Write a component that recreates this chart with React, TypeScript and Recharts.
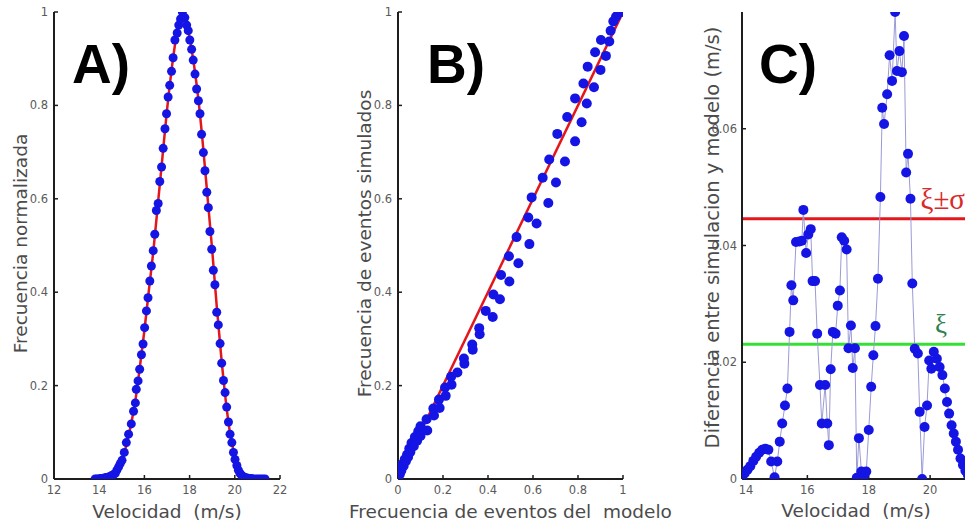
import { ScatterChart, Scatter, XAxis, YAxis, ReferenceLine } from 'recharts'

// A) normalised velocity distribution: simulated points + model curve
const A_VEL = [
  13.82, 13.9, 13.98, 14.06, 14.14, 14.22, 14.3, 14.38, 14.46, 14.54,
  14.62, 14.71, 14.78, 14.86, 14.93, 15.01, 15.11, 15.2, 15.3, 15.42,
  15.52, 15.6, 15.64, 15.72, 15.79, 15.87, 15.94, 16.01, 16.09, 16.16,
  16.24, 16.31, 16.39, 16.46, 16.53, 16.61, 16.68, 16.76, 16.83, 16.91,
  16.98, 17.05, 17.12, 17.2, 17.27, 17.35, 17.45, 17.52, 17.6, 17.68,
  17.79, 17.87, 17.94, 18.01, 18.09, 18.16, 18.24, 18.31, 18.39, 18.46,
  18.53, 18.61, 18.68, 18.76, 18.83, 18.9, 18.98, 19.05, 19.12, 19.2,
  19.27, 19.35, 19.42, 19.5, 19.57, 19.64, 19.72, 19.79, 19.87, 19.94,
  20.01, 20.09, 20.16, 20.23, 20.3, 20.38, 20.46, 20.55, 20.64, 20.74,
  20.84, 20.94, 21.04, 21.14, 21.24, 21.34,
]
const A_SIM = [
  0, 0, 0, 0.001, 0.001, 0.002, 0.003, 0.004, 0.005, 0.007,
  0.009, 0.012, 0.019, 0.026, 0.033, 0.04, 0.057, 0.078, 0.096, 0.118,
  0.145, 0.163, 0.192, 0.21, 0.235, 0.266, 0.289, 0.324, 0.36, 0.388,
  0.424, 0.456, 0.489, 0.524, 0.575, 0.59, 0.637, 0.668, 0.708, 0.75,
  0.782, 0.818, 0.843, 0.873, 0.902, 0.94, 0.955, 0.972, 0.985, 1.0,
  0.988, 0.972, 0.96, 0.94, 0.92, 0.897, 0.867, 0.835, 0.81, 0.782,
  0.738, 0.699, 0.66, 0.614, 0.581, 0.53, 0.492, 0.447, 0.416, 0.357,
  0.33, 0.29, 0.248, 0.211, 0.185, 0.154, 0.122, 0.096, 0.078, 0.057,
  0.042, 0.029, 0.019, 0.012, 0.008, 0.005, 0.003, 0.002, 0.001, 0.001,
  0, 0, 0, 0, 0, 0,
]
const A_MODEL_VEL = [
  14.3, 14.6, 14.8, 15.0, 15.2, 15.4, 15.6, 15.8, 16.0, 16.2,
  16.4, 16.6, 16.8, 17.0, 17.2, 17.4, 17.55, 17.7, 17.85, 18.0,
  18.2, 18.4, 18.6, 18.8, 19.0, 19.2, 19.4, 19.6, 19.8, 20.0,
  20.2, 20.4, 20.6, 20.9,
]
const A_MODEL = [
  0, 0.006, 0.018, 0.038, 0.072, 0.115, 0.168, 0.24, 0.318, 0.405,
  0.49, 0.59, 0.69, 0.79, 0.875, 0.945, 0.985, 1.0, 0.985, 0.945,
  0.885, 0.808, 0.71, 0.6, 0.49, 0.37, 0.262, 0.168, 0.095, 0.05,
  0.024, 0.011, 0.004, 0,
]

// B) simulated vs model event frequency
const B_MODEL_X = [0, 1]
const B_MODEL_Y = [0, 1]
const B_X = [
  0, 0.002, 0.005, 0.008, 0.012, 0.015, 0.02, 0.025, 0.03, 0.035,
  0.04, 0.045, 0.05, 0.055, 0.06, 0.07, 0.075, 0.085, 0.09, 0.1,
  0.1, 0.127, 0.13, 0.157, 0.16, 0.182, 0.185, 0.209, 0.212, 0.236,
  0.238, 0.264, 0.293, 0.295, 0.33, 0.332, 0.361, 0.363, 0.39, 0.421,
  0.424, 0.453, 0.458, 0.493, 0.495, 0.527, 0.535, 0.579, 0.584, 0.594,
  0.616, 0.643, 0.668, 0.672, 0.702, 0.708, 0.742, 0.752, 0.787, 0.787,
  0.816, 0.824, 0.839, 0.843, 0.871, 0.876, 0.9, 0.902, 0.924, 0.939,
  0.945, 0.957, 0.969, 0.98, 1,
]
const B_Y = [
  0, 0.005, 0.013, 0.01, 0.022, 0.018, 0.032, 0.028, 0.042, 0.038,
  0.052, 0.047, 0.065, 0.058, 0.077, 0.07, 0.09, 0.082, 0.102, 0.092,
  0.113, 0.128, 0.104, 0.151, 0.136, 0.17, 0.152, 0.196, 0.178, 0.219,
  0.202, 0.228, 0.258, 0.247, 0.288, 0.277, 0.323, 0.31, 0.36, 0.347,
  0.395, 0.385, 0.437, 0.477, 0.423, 0.518, 0.462, 0.56, 0.503, 0.603,
  0.547, 0.645, 0.591, 0.684, 0.635, 0.739, 0.68, 0.775, 0.723, 0.815,
  0.764, 0.847, 0.804, 0.883, 0.839, 0.914, 0.876, 0.94, 0.906, 0.937,
  0.96, 0.98, 0.99, 0.998, 1,
]

// C) difference between simulation and model
const C_VEL = [
  13.88, 13.96, 14.05, 14.14, 14.24, 14.33, 14.43, 14.53, 14.63, 14.73,
  14.82, 14.93, 15.02, 15.1, 15.18, 15.27, 15.35, 15.42, 15.48, 15.54,
  15.63, 15.74, 15.82, 15.87, 15.96, 16.03, 16.11, 16.17, 16.25, 16.32,
  16.41, 16.47, 16.58, 16.65, 16.7, 16.76, 16.83, 16.92, 16.99, 17.06,
  17.12, 17.2, 17.28, 17.34, 17.42, 17.48, 17.55, 17.61, 17.68, 17.76,
  17.84, 17.92, 18.0, 18.08, 18.15, 18.22, 18.3, 18.38, 18.44, 18.5,
  18.6, 18.68, 18.76, 18.86, 18.92, 19.0, 19.08, 19.15, 19.22, 19.28,
  19.36, 19.42, 19.5, 19.6, 19.66, 19.74, 19.82, 19.9, 19.97, 20.04,
  20.12, 20.22, 20.31, 20.4, 20.48, 20.55, 20.62, 20.7, 20.77, 20.84,
  20.91, 20.99, 21.07, 21.15, 21.23,
]
const C_DIFF = [
  0.0004, 0.001, 0.0016, 0.0022, 0.0031, 0.0038, 0.0045, 0.005, 0.0052, 0.005,
  0.003, 0.0003, 0.003, 0.0064, 0.0095, 0.0126, 0.0155, 0.0252, 0.0332, 0.0306,
  0.0406, 0.0407, 0.0408, 0.0461, 0.0387, 0.0419, 0.0428, 0.0339, 0.0339, 0.0249,
  0.0161, 0.0095, 0.0161, 0.0095, 0.0058, 0.0188, 0.0252, 0.0249, 0.0297, 0.0323,
  0.0414, 0.0408, 0.0393, 0.0224, 0.0263, 0.019, 0.0224, 0.0002, 0.007, 0.0013,
  0.0003, 0.0013, 0.0084, 0.0158, 0.0212, 0.0262, 0.0343, 0.0483, 0.0636, 0.0608,
  0.0659, 0.0726, 0.0682, 0.08, 0.0699, 0.0733, 0.0697, 0.0759, 0.0525, 0.0557,
  0.048, 0.0335, 0.0223, 0.0215, 0.0115, 0, 0.0089, 0.0126, 0.0203, 0.0189,
  0.0218, 0.0206, 0.0192, 0.0178, 0.0155, 0.0132, 0.0112, 0.0092, 0.0078, 0.0064,
  0.005, 0.0035, 0.0024, 0.0014, 0.0007,
]
const XI = 0.0231
const XI_SIGMA = 0.0446

const A_XTICKS = [12, 14, 16, 18, 20, 22]
const UNIT_TICKS = [0, 0.2, 0.4, 0.6, 0.8, 1]
const C_XTICKS = [14, 16, 18, 20]
const C_YTICKS = [0, 0.02, 0.04, 0.06]

const BLUE = '#1414e4'
const RED = '#e3161b'
const TICK = { fill: '#5a5a5a', fontSize: 11.5, fontFamily: 'DejaVu Sans' }
const AXIS_LINE = { stroke: '#1e1e1e', strokeWidth: 2 }
const TICK_LINE = { stroke: '#1e1e1e', strokeWidth: 1.5 }
const TITLE = { fill: '#4b4b4b', fontSize: 18.5, fontFamily: 'DejaVu Sans' }

const zip = (xs: number[], ys: number[]) => xs.map((x, i) => ({ x, y: ys[i] }))

const dot = (r: number) => (p: any) => <circle cx={p.cx} cy={p.cy} r={r} fill={BLUE} />
const noDot = () => <g />

const axisCommon = {
  type: 'number' as const,
  interval: 0 as const,
  axisLine: AXIS_LINE,
  tickLine: TICK_LINE,
  tickSize: -4,
  tick: TICK,
  allowDataOverflow: true,
}

const letter = (left: number): React.CSSProperties => ({
  position: 'absolute',
  left,
  top: 37,
  fontFamily: 'Liberation Sans',
  fontWeight: 700,
  fontSize: 55,
  lineHeight: 1,
  color: '#000',
})

function PanelA() {
  return (
    <ScatterChart width={300} height={526} margin={{ top: 12, right: 20, bottom: 0, left: 0 }}>
      <XAxis
        {...axisCommon}
        dataKey="x"
        domain={[12, 22]}
        ticks={A_XTICKS}
        height={47}
        tickMargin={11}
        label={{ value: 'Velocidad\u00a0 (m/s)', position: 'center', dy: 9, ...TITLE }}
      />
      <YAxis
        {...axisCommon}
        dataKey="y"
        domain={[0, 1]}
        ticks={UNIT_TICKS}
        width={54}
        tickMargin={10}
        label={{ value: 'Frecuencia normalizada', angle: -90, position: 'center', dx: -7, dy: -2, ...TITLE }}
      />
      <Scatter
        data={zip(A_MODEL_VEL, A_MODEL)}
        line={{ stroke: RED, strokeWidth: 2.5 }}
        lineJointType="monotoneX"
        shape={noDot}
        isAnimationActive={false}
      />
      <Scatter data={zip(A_VEL, A_SIM)} shape={dot(4.5)} isAnimationActive={false} />
    </ScatterChart>
  )
}

function PanelB() {
  return (
    <ScatterChart width={350} height={526} margin={{ top: 12, right: 57, bottom: 0, left: 0 }}>
      <XAxis
        {...axisCommon}
        dataKey="x"
        domain={[0, 1]}
        ticks={UNIT_TICKS}
        height={47}
        tickMargin={11}
        label={{ value: 'Frecuencia de eventos del\u00a0 modelo', position: 'center', dy: 9, ...TITLE }}
      />
      <YAxis
        {...axisCommon}
        dataKey="y"
        domain={[0, 1]}
        ticks={UNIT_TICKS}
        width={68}
        tickMargin={10}
        label={{ value: 'Frecuencia de eventos simulados', angle: -90, position: 'center', dx: 0, dy: -2, ...TITLE }}
      />
      <Scatter
        data={zip(B_MODEL_X, B_MODEL_Y)}
        line={{ stroke: RED, strokeWidth: 2.5 }}
        shape={noDot}
        isAnimationActive={false}
      />
      <Scatter data={zip(B_X, B_Y)} shape={dot(5)} isAnimationActive={false} />
    </ScatterChart>
  )
}

function PanelC() {
  return (
    <ScatterChart width={290} height={526} margin={{ top: 12, right: 0, bottom: 0, left: 0 }}>
      <XAxis
        {...axisCommon}
        dataKey="x"
        domain={[13.87, 21.3]}
        ticks={C_XTICKS}
        height={47}
        tickMargin={11}
        label={{ value: 'Velocidad\u00a0 (m/s)', position: 'center', dy: 8, ...TITLE }}
      />
      <YAxis
        {...axisCommon}
        dataKey="y"
        domain={[0, 0.08]}
        ticks={C_YTICKS}
        width={62}
        tickMargin={9}
        label={{
          value: 'Diferencia entre simulacion y modelo (m/s)',
          angle: -90,
          position: 'center',
          dx: 1,
          dy: -8,
          ...TITLE,
          fontSize: 19.5,
        }}
      />
      <ReferenceLine
        y={XI_SIGMA}
        stroke={RED}
        strokeWidth={3}
        label={{
          value: 'ξ±σ',
          position: 'insideBottomRight',
          offset: 5,
          dy: -5,
          fill: '#d92a2a',
          fontSize: 29,
          fontFamily: 'Liberation Serif',
        }}
      />
      <ReferenceLine
        y={XI}
        stroke="#35e035"
        strokeWidth={3}
        label={{
          value: 'ξ',
          position: 'insideBottomRight',
          offset: 5,
          dx: -18,
          dy: -6,
          fill: '#2f7f50',
          fontSize: 27,
          fontFamily: 'Liberation Serif',
        }}
      />
      <Scatter
        data={zip(C_VEL, C_DIFF)}
        line={{ stroke: '#9b9bd6', strokeWidth: 1 }}
        shape={dot(5)}
        isAnimationActive={false}
      />
    </ScatterChart>
  )
}

export default function App() {
  return (
    <div
      style={{
        position: 'absolute',
        left: 0,
        top: 0,
        width: 965,
        height: 526,
        overflow: 'hidden',
        background: '#fff',
      }}
    >
      <div style={{ position: 'absolute', left: 0, top: 0 }}>
        <PanelA />
      </div>
      <div style={{ position: 'absolute', left: 330, top: 0 }}>
        <PanelB />
      </div>
      <div style={{ position: 'absolute', left: 680, top: 0 }}>
        <PanelC />
      </div>
      <div style={letter(72)}>A)</div>
      <div style={letter(427)}>B)</div>
      <div style={letter(759)}>C)</div>
    </div>
  )
}
